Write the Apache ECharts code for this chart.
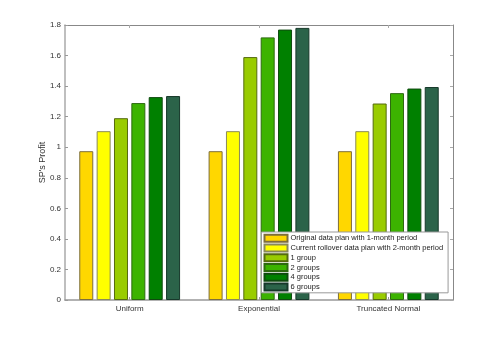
<!DOCTYPE html>
<html><head><meta charset="utf-8">
<script src="https://cdn.jsdelivr.net/npm/echarts@6/dist/echarts.min.js"></script>
<style>html,body{margin:0;padding:0;background:#fff}#c{width:501px;height:337px}</style>
</head><body><div id="c"></div>
<script>
const categories = ['Uniform', 'Exponential', 'Truncated Normal'];
const seriesNames = ['Original data plan with 1-month period', 'Current rollover data plan with 2-month period', '1 group', '2 groups', '4 groups', '6 groups'];
const original1 = [0.974, 0.974, 0.974];
const rollover2 = [1.105, 1.105, 1.105];
const group1 = [1.19, 1.59, 1.286];
const groups2 = [1.289, 1.719, 1.354];
const groups4 = [1.328, 1.77, 1.384];
const groups6 = [1.335, 1.781, 1.394];
const yTicks = [0, 0.2, 0.4, 0.6, 0.8, 1, 1.2, 1.4, 1.6, 1.8];

const values = [original1, rollover2, group1, groups2, groups4, groups6];
const colors = ['#FFD700', '#FFFF00', '#99CC00', '#3CB300', '#008000', '#2B6349'];
const borders = ['#7d6e3c', '#8a8a5a', '#556b10', '#2d6a10', '#0f4a0f', '#17382a'];
const font = 'Liberation Sans, Arial, sans-serif';

const chart = echarts.init(document.getElementById('c'), null, {renderer: 'canvas'});
chart.setOption({
  animation: false,
  backgroundColor: '#fff',
  grid: {left: 65, right: 48, top: 25, bottom: 37},
  legend: {
    data: seriesNames.map(n => ({name: n, icon: 'rect'})),
    orient: 'vertical',
    left: 261.5, top: 232,
    itemWidth: 23, itemHeight: 7, itemGap: 0,
    padding: [1.5, 5, 1, 2],
    backgroundColor: '#fff',
    borderColor: '#999', borderWidth: 1,
    textStyle: {fontSize: 7.5, fontFamily: font, color: '#222', lineHeight: 9.72, padding: [0, 0, 0, -2]},
    selectedMode: false
  },
  xAxis: [{
    type: 'category', data: categories, position: 'bottom',
    axisLine: {onZero: false, lineStyle: {color: '#999', width: 1.5}},
    axisTick: {show: true, alignWithLabel: true, inside: true, length: 3, lineStyle: {color: '#999'}},
    axisLabel: {fontSize: 8, fontFamily: font, color: '#333', margin: 5}
  }, {
    type: 'category', data: categories, position: 'top',
    axisLine: {show: true, onZero: false, lineStyle: {color: '#888', width: 1}},
    axisTick: {show: true, alignWithLabel: true, inside: true, length: 3, lineStyle: {color: '#aaa'}},
    axisLabel: {show: false}
  }],
  yAxis: [{
    type: 'value', min: 0, max: 1.8, interval: 0.2, position: 'left',
    name: "SP's Profit", nameLocation: 'middle', nameGap: 18, nameRotate: 90, nameMoveOverlap: false,
    nameTextStyle: {fontSize: 9, fontFamily: font, color: '#333'},
    axisLine: {show: true, onZero: false, lineStyle: {color: '#aaa', width: 1.5}},
    axisTick: {show: true, inside: true, length: 3, lineStyle: {color: '#999'}},
    axisLabel: {fontSize: 8, fontFamily: font, color: '#333', margin: 4,
      formatter: v => { const t = yTicks.find(x => Math.abs(x - v) < 1e-9); return String(t !== undefined ? t : v); }},
    splitLine: {show: false}
  }, {
    type: 'value', min: 0, max: 1.8, interval: 0.2, position: 'right',
    axisLine: {show: true, onZero: false, lineStyle: {color: '#888', width: 1}},
    axisTick: {show: true, inside: true, length: 3, lineStyle: {color: '#aaa'}},
    axisLabel: {show: false},
    splitLine: {show: false}
  }],
  series: seriesNames.map((n, i) => ({
    name: n, type: 'bar', data: values[i], xAxisIndex: 0, yAxisIndex: 0,
    barWidth: 14, barGap: '24%',
    itemStyle: {color: colors[i], borderColor: borders[i], borderWidth: 1}
  }))
});
</script></body></html>
